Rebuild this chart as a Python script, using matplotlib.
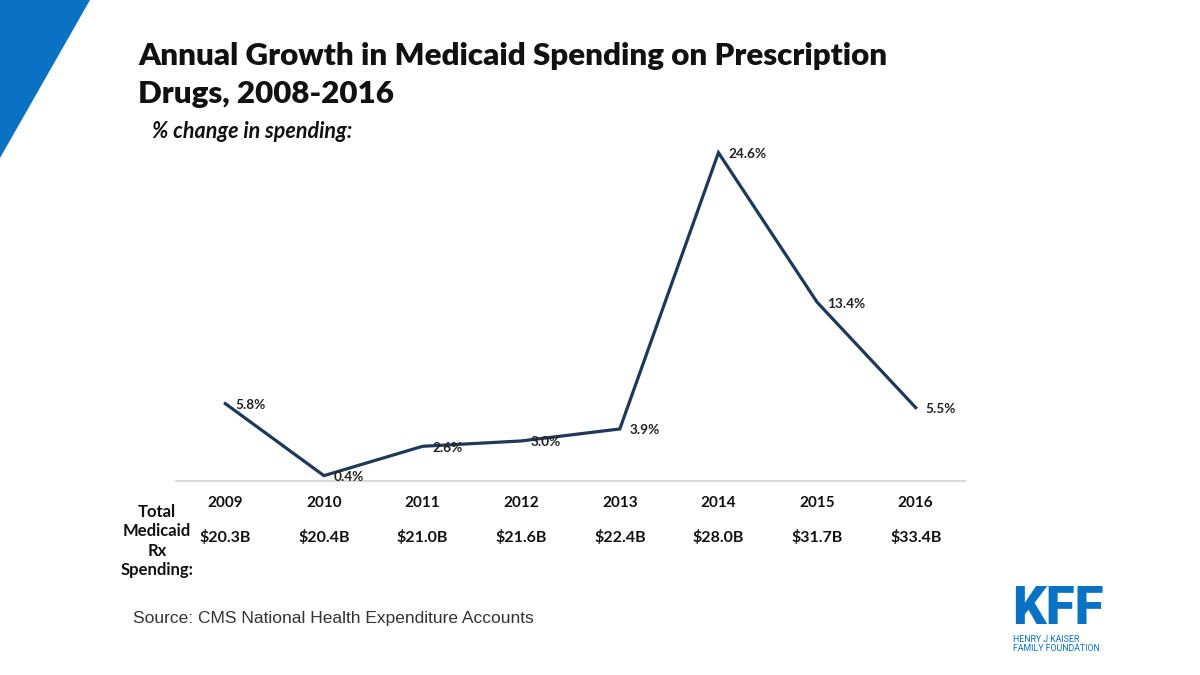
import numpy as np
import matplotlib.pyplot as plt
from matplotlib.patches import Polygon

years = ['2009', '2010', '2011', '2012', '2013', '2014', '2015', '2016']
pct_change = [5.8, 0.4, 2.6, 3.0, 3.9, 24.6, 13.4, 5.5]
spending = ['$20.3B', '$20.4B', '$21.0B', '$21.6B', '$22.4B', '$28.0B', '$31.7B', '$33.4B']

navy = '#1f3858'
kff_blue = '#0a72c2'
plt.rcParams['font.family'] = ['Lato', 'DejaVu Sans']

fig = plt.figure(figsize=(12, 6.75), dpi=100)

# blue corner triangle
fig.patches.append(Polygon([[0, 1], [90 / 1200, 1], [0, 1 - 158 / 675]],
                           closed=True, transform=fig.transFigure,
                           facecolor=kff_blue, edgecolor='none'))

#------main line chart--------------------------------------------------------
ax = fig.add_axes([176 / 1200, (675 - 481) / 675, 789 / 1200, 347 / 675])
x = np.arange(len(years))
ax.plot(x, pct_change, color=navy, lw=2.3, solid_joinstyle='miter')
for xi, v in zip(x, pct_change):
    ax.annotate('%.1f%%' % v, (xi, v), xytext=(7, -1), textcoords='offset points',
                ha='left', va='center', fontsize=9.8, fontweight='bold', color='#222222')

ax.set_xlim(-0.5, len(years) - 0.5)
ax.set_ylim(0, 26)
for s in ['top', 'right', 'left']:
    ax.spines[s].set_visible(False)
ax.spines['bottom'].set_color('#d9d9d9')
ax.spines['bottom'].set_linewidth(1.5)
ax.set_yticks([])
ax.set_xticks([])

# year and spending rows below the axis
for xi, yr, sp in zip(x, years, spending):
    ax.text(xi, -1.65, yr, ha='center', va='center', fontsize=11, fontweight='bold',
            color='#111111')
    ax.text(xi, -4.2, sp, ha='center', va='center', fontsize=11.5, fontweight='bold',
            color='#111111')

fig.text(157 / 1200, 1 - 541 / 675, 'Total\nMedicaid\nRx\nSpending:', ha='center',
         va='center', fontsize=12, fontweight='bold', color='#111111', linespacing=1.25)

#------titles and notes-------------------------------------------------------
fig.text(138 / 1200, 1 - 42 / 675, 'Annual Growth in Medicaid Spending on Prescription\nDrugs, 2008-2016',
         ha='left', va='top', fontsize=22.5, fontweight='heavy', color='#111111', linespacing=1.45)
fig.text(152 / 1200, 1 - 132 / 675, '% change in spending:', ha='left', va='center',
         fontsize=15.5, fontweight='bold', style='italic', color='#111111')
fig.text(133 / 1200, 1 - 618 / 675, 'Source: CMS National Health Expenditure Accounts',
         ha='left', va='center', fontsize=12.5, color='#333333', family='Liberation Sans')

# KFF logo as text
fig.text(1058 / 1200, 1 - 610 / 675, 'KFF', ha='center', va='center', fontsize=38,
         fontweight='black', color=kff_blue, family='Roboto')
fig.text(1013 / 1200, 1 - 644 / 675, 'HENRY J KAISER\nFAMILY FOUNDATION', ha='left',
         va='center', fontsize=6.3, color=kff_blue, linespacing=1.1, family='Roboto')

plt.savefig('out.png', dpi=100)
